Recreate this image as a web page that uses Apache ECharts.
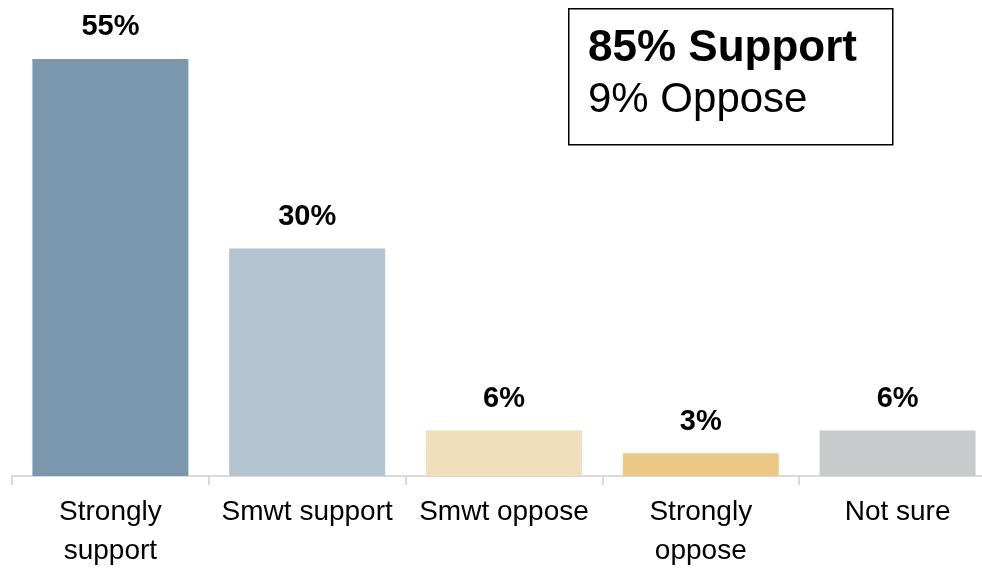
<!DOCTYPE html>
<html>
<head>
<meta charset="utf-8">
<script src="https://cdn.jsdelivr.net/npm/echarts@6/dist/echarts.min.js"></script>
<style>
html,body{margin:0;padding:0;background:#fff;}
#chart{width:982px;height:569px;}
</style>
</head>
<body>
<div id="chart"></div>
<script>
const categories = ["Strongly\nsupport", "Smwt support", "Smwt oppose", "Strongly\noppose", "Not sure"];
const values = [55, 30, 6, 3, 6];
const barColors = ["#7b97ad", "#b3c3d0", "#f1dfbc", "#ebc883", "#c9cacc"];
const summaryLines = ["85% Support", "9% Oppose"];

const chart = echarts.init(document.getElementById('chart'));
const FONT = '"Liberation Sans", Arial, sans-serif';
chart.setOption({
  animation: false,
  backgroundColor: '#ffffff',
  grid: { left: 12, top: 21, width: 984, bottom: 93, containLabel: false, outerBoundsMode: 'none' },
  xAxis: {
    type: 'category',
    data: categories,
    axisLine: { show: true, lineStyle: { color: '#d9d9d9', width: 2 } },
    axisTick: { show: true, alignWithLabel: false, length: 9, lineStyle: { color: '#d9d9d9', width: 2 } },
    axisLabel: {
      interval: 0, margin: 17, color: '#000', fontFamily: FONT, fontSize: 28, lineHeight: 39
    }
  },
  yAxis: {
    type: 'value', min: 0, max: 60, show: false,
    splitLine: { show: false }
  },
  series: [{
    type: 'bar',
    data: values.map((v, i) => ({ value: v, itemStyle: { color: barColors[i] } })),
    barWidth: 156,
    label: {
      show: true, position: 'top', distance: 17,
      formatter: p => p.value + '%',
      color: '#000', fontFamily: FONT, fontWeight: 'bold', fontSize: 29
    }
  }],
  graphic: [
    { type: 'rect', left: 568, top: 8, shape: { width: 324, height: 136 },
      style: { fill: '#fff', stroke: '#000', lineWidth: 1.5 } },
    { type: 'text', left: 588, top: 27, style: { text: summaryLines[0], fontFamily: FONT, fontWeight: 'bold', fontSize: 44, fill: '#000' } },
    { type: 'text', left: 588, top: 79, style: { text: summaryLines[1], fontFamily: FONT, fontSize: 42, fill: '#000' } }
  ]
});
</script>
</body>
</html>
